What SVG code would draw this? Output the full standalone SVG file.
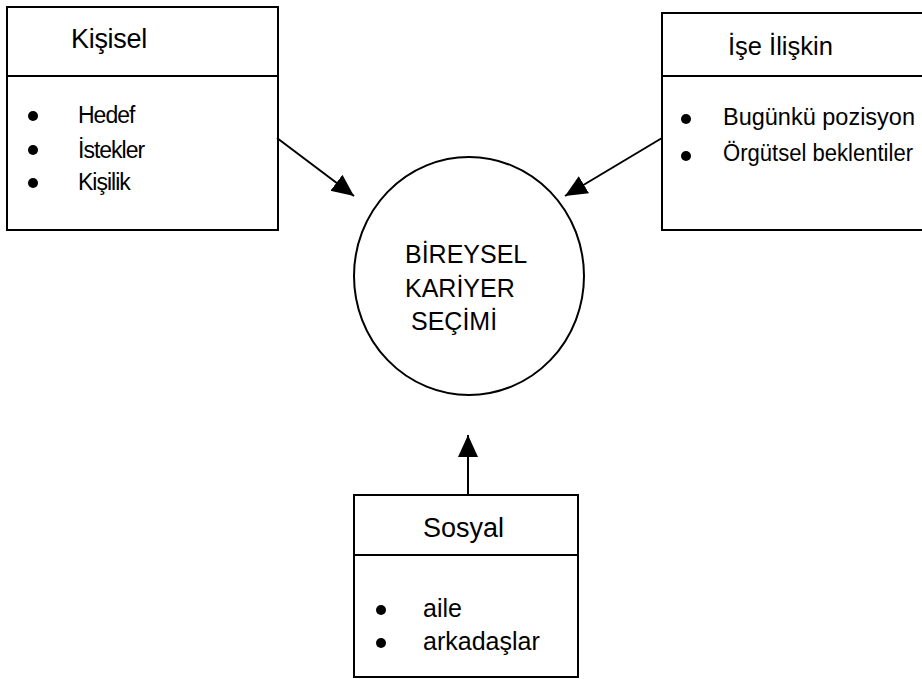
<svg xmlns="http://www.w3.org/2000/svg" width="922" height="679" viewBox="0 0 922 679">
<style>
.box{fill:#fff;stroke:#000;stroke-width:2}
.t{font-family:"Liberation Sans",Arial,sans-serif;fill:#000}
.conn{stroke:#000;stroke-width:2;fill:none}
</style>
<defs>
<marker id="ah" markerUnits="userSpaceOnUse" markerWidth="24" markerHeight="22" refX="22" refY="10" orient="auto">
<path d="M0,0 L22,10 L0,20 Z" fill="#000"/>
</marker>
</defs>
<rect width="922" height="679" fill="#fff"/>
<g id="kisisel">
<rect class="box" x="7" y="7" width="271" height="223"/>
<line class="conn" x1="7" y1="76" x2="278" y2="76"/>
<text class="t" x="71" y="48" font-size="27" letter-spacing="-0.3">Kişisel</text>
<circle cx="33" cy="116" r="5"/>
<circle cx="33" cy="150" r="5"/>
<circle cx="33" cy="183" r="5"/>
<text class="t" x="78" y="123" font-size="23" letter-spacing="-1">Hedef</text>
<text class="t" x="78" y="158" font-size="23" letter-spacing="-1">İstekler</text>
<text class="t" x="78" y="190" font-size="23" letter-spacing="-1">Kişilik</text>
</g>
<g id="ise-iliskin">
<rect class="box" x="662" y="13" width="270" height="217"/>
<line class="conn" x1="662" y1="76" x2="922" y2="76"/>
<text class="t" x="728" y="55" font-size="25.5">İşe İlişkin</text>
<circle cx="686" cy="119" r="5"/>
<circle cx="686" cy="156" r="5"/>
<text class="t" x="723" y="125" font-size="23" textLength="192" lengthAdjust="spacingAndGlyphs">Bugünkü pozisyon</text>
<text class="t" x="723" y="161" font-size="23" textLength="190" lengthAdjust="spacingAndGlyphs">Örgütsel beklentiler</text>
</g>
<g id="bireysel">
<ellipse class="box" cx="469" cy="276" rx="115" ry="119"/>
<text class="t" x="405" y="263" font-size="25">BİREYSEL</text>
<text class="t" x="405" y="297" font-size="25">KARİYER</text>
<text class="t" x="411" y="330" font-size="25">SEÇİMİ</text>
</g>
<g id="sosyal">
<rect class="box" x="354" y="495" width="224" height="182"/>
<line class="conn" x1="354" y1="555" x2="578" y2="555"/>
<text class="t" x="423" y="537" font-size="27">Sosyal</text>
<circle cx="381" cy="610" r="5"/>
<circle cx="381" cy="643" r="5"/>
<text class="t" x="423" y="617" font-size="25">aile</text>
<text class="t" x="423" y="650" font-size="25">arkadaşlar</text>
</g>
<g id="connectors">
<line class="conn" x1="277" y1="138" x2="354" y2="196" marker-end="url(#ah)"/>
<line class="conn" x1="662" y1="138" x2="565" y2="196" marker-end="url(#ah)"/>
<line class="conn" x1="468" y1="495" x2="468" y2="435" marker-end="url(#ah)"/>
</g>
</svg>
